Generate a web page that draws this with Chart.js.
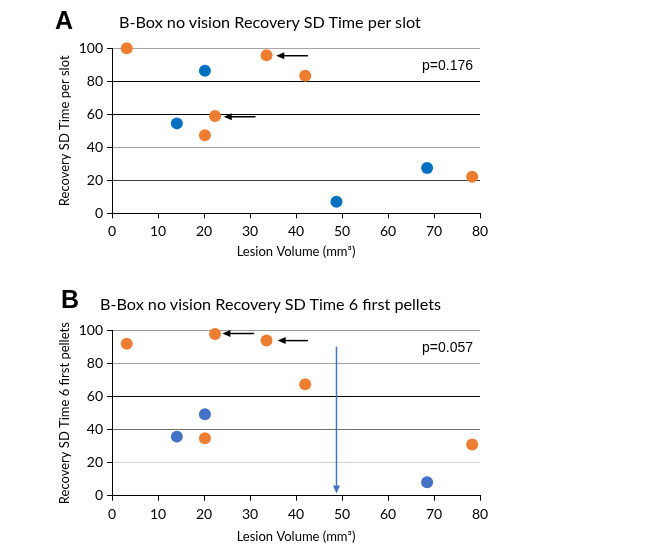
<!DOCTYPE html>
<html>
<head>
<meta charset="utf-8">
<script src="https://cdn.jsdelivr.net/npm/chart.js@4"></script>
<style>
  body { margin: 0; background: #fff; width: 663px; height: 549px; position: relative; overflow: hidden; }
  canvas { position: absolute; left: 0; }
  .letter { position: absolute; font: bold 25px "Liberation Sans", Arial, sans-serif; color: #000; }
  .title { position: absolute; font: 16.2px Lato, sans-serif; color: #000; white-space: nowrap; }
</style>
</head>
<body>
<canvas id="chartA" width="663" height="270" style="top:0"></canvas>
<canvas id="chartB" width="663" height="271" style="top:278px"></canvas>
<div class="letter" style="left:55px;top:6px">A</div>
<div class="title" style="left:119px;top:12px">B-Box no vision Recovery SD Time per slot</div>
<div class="letter" style="left:61px;top:285px">B</div>
<div class="title" style="left:100px;top:294px">B-Box no vision Recovery SD Time 6 first pellets</div>
<script>
// shared axes
const xTicks = [0, 10, 20, 30, 40, 50, 60, 70, 80];
const yTicks = [0, 20, 40, 60, 80, 100];

// panel A - time per slot
const slotOrangeX = [3.2, 33.6, 42.0, 22.4, 20.2, 78.3];
const slotOrangeY = [100, 95.8, 83.4, 59.0, 47.3, 22.2];
const slotBlueX = [20.2, 14.1, 48.8, 68.5];
const slotBlueY = [86.4, 54.5, 7.0, 27.5];
const slotP = 'p=0.176';
// arrows in data units: [fromX, fromY, toX, toY]
const slotArrows = [[42.6, 95.5, 35.7, 95.5], [31.2, 58.5, 24.3, 58.5]];

// panel B - time 6 first pellets
const pelletOrangeX = [3.2, 22.4, 33.6, 42.0, 20.2, 78.3];
const pelletOrangeY = [92.1, 98.0, 94.0, 67.5, 34.8, 31.0];
const pelletBlueX = [20.2, 14.1, 68.5];
const pelletBlueY = [49.3, 35.8, 8.1];
const pelletP = 'p=0.057';
const pelletArrows = [[30.9, 98.3, 24.0, 98.3], [42.6, 94.0, 36.0, 94.0]];
const pelletBlueArrow = [[48.8, 90.3, 48.8, 1.3]];

const orange = '#ED7D31';

function pts(xs, ys) {
    return xs.map((x, i) => ({ x: x, y: ys[i] }));
}

// draws arrows and the p value
const notes = {
    id: 'notes',
    afterDatasetsDraw(chart, args, opts) {
        const ctx = chart.ctx;
        const x = chart.scales.x, y = chart.scales.y;
        ctx.save();
        opts.arrows.forEach(a => {
            const x1 = x.getPixelForValue(a[0]), y1 = y.getPixelForValue(a[1]);
            const x2 = x.getPixelForValue(a[2]), y2 = y.getPixelForValue(a[3]);
            const ang = Math.atan2(y2 - y1, x2 - x1);
            ctx.strokeStyle = a.color || opts.color;
            ctx.fillStyle = a.color || opts.color;
            ctx.lineWidth = 1.5;
            ctx.beginPath();
            ctx.moveTo(x1, y1);
            ctx.lineTo(x2 - 6 * Math.cos(ang), y2 - 6 * Math.sin(ang));
            ctx.stroke();
            ctx.beginPath();
            ctx.moveTo(x2, y2);
            ctx.lineTo(x2 - 8 * Math.cos(ang) + 3.5 * Math.sin(ang), y2 - 8 * Math.sin(ang) - 3.5 * Math.cos(ang));
            ctx.lineTo(x2 - 8 * Math.cos(ang) - 3.5 * Math.sin(ang), y2 - 8 * Math.sin(ang) + 3.5 * Math.cos(ang));
            ctx.closePath();
            ctx.fill();
        });
        ctx.fillStyle = '#000';
        ctx.font = '14px "Liberation Sans", Arial, sans-serif';
        ctx.textAlign = 'right';
        ctx.textBaseline = 'middle';
        ctx.fillText(opts.pText, chart.chartArea.right - 7, y.getPixelForValue(89.2));
        ctx.restore();
    }
};

function makeChart(id, sets, cfg) {
    const ctx = document.getElementById(id).getContext('2d');
    return new Chart(ctx, {
        type: 'scatter',
        data: { datasets: sets },
        options: {
            responsive: false,
            animation: false,
            devicePixelRatio: 1,
            layout: { padding: { top: cfg.top, right: 183, left: 0, bottom: 0 } },
            plugins: {
                legend: { display: false },
                tooltip: { enabled: false },
                notes: { arrows: cfg.arrows, color: '#000', pText: cfg.pText }
            },
            scales: {
                x: {
                    type: 'linear', min: 0, max: 80,
                    afterBuildTicks: s => { s.ticks = xTicks.map(v => ({ value: v })); },
                    afterFit: s => { s.height = cfg.xHeight; },
                    ticks: { color: '#000', padding: 5, font: { family: 'Lato', size: 14 } },
                    grid: { drawOnChartArea: false, tickLength: 5, tickColor: '#000' },
                    border: { color: '#000', width: 1 },
                    title: { display: true, text: 'Lesion Volume (mm³)', color: '#000',
                             font: { family: 'Lato', size: 13 }, padding: { top: 0, bottom: cfg.xTitlePad } }
                },
                y: {
                    type: 'linear', min: 0, max: 100,
                    afterBuildTicks: s => { s.ticks = yTicks.map(v => ({ value: v })); },
                    afterFit: s => { s.width = 112; },
                    ticks: { color: '#000', padding: 4, font: { family: 'Lato', size: 14 } },
                    grid: { color: c => cfg.grid[c.index], tickLength: 5, tickColor: '#000' },
                    border: { color: '#000', width: 1 },
                    title: { display: true, text: cfg.yTitle, color: '#000',
                             font: { family: 'Lato', size: 13 }, padding: { top: 57, bottom: 0 } }
                }
            }
        },
        plugins: [notes]
    });
}

function dots(data, color) {
    return { data: data, backgroundColor: color, borderWidth: 0, pointRadius: 6, clip: false };
}

makeChart('chartA', [
    dots(pts(slotOrangeX, slotOrangeY), orange),
    dots(pts(slotBlueX, slotBlueY), '#0070C0')
], {
    top: 48.3, xHeight: 56.7, xTitlePad: 10,
    yTitle: 'Recovery SD Time per slot',
    grid: ['#000', '#404040', '#a6a6a6', '#000', '#000', '#a6a6a6'],
    arrows: slotArrows, pText: slotP
});

const blueArrows = pelletBlueArrow.map(a => { const c = a.slice(); c.color = '#4472C4'; return c; });

makeChart('chartB', [
    dots(pts(pelletOrangeX, pelletOrangeY), orange),
    dots(pts(pelletBlueX, pelletBlueY), '#4472C4')
], {
    top: 52.7, xHeight: 53.3, xTitlePad: 4.5,
    yTitle: 'Recovery SD Time 6 first pellets',
    grid: ['#000', '#d0d0d0', '#707070', '#000', '#a6a6a6', '#999999'],
    arrows: pelletArrows.concat(blueArrows), pText: pelletP
});
</script>
</body>
</html>
